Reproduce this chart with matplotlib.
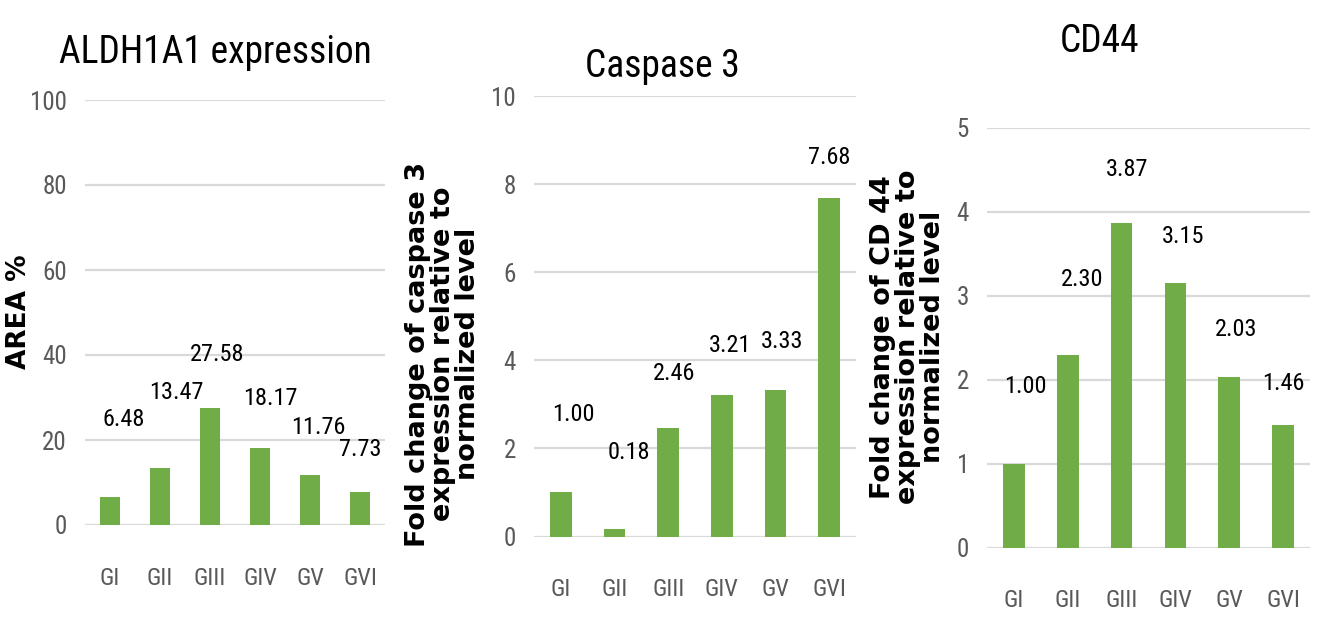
import os
import matplotlib
matplotlib.use("Agg")
import matplotlib.pyplot as plt
from matplotlib import font_manager as fm
import numpy as np

GROUPS = ["GI", "GII", "GIII", "GIV", "GV", "GVI"]

ALDH1A1_AREA = [6.48, 13.47, 27.58, 18.17, 11.76, 7.73]
CASPASE3_FOLD = [1.00, 0.18, 2.46, 3.21, 3.33, 7.68]
CD44_FOLD = [1.00, 2.30, 3.87, 3.15, 2.03, 1.46]

# value labels sit wherever they were dragged in the original, not on the bars
ALDH_LBL_DX = [0.28, 0.32, 0.14, 0.20, 0.16, 0.0]
ALDH_LBL_Y = [24.8, 31.2, 40.2, 29.7, 23.0, 17.7]
CASP_LBL_DX = [0.23, 0.26, 0.11, 0.15, 0.13, 0.0]
CASP_LBL_Y = [2.76, 1.91, 3.70, 4.33, 4.42, 8.6]
CD44_LBL_DX = [0.22, 0.26, 0.10, 0.15, 0.12, 0.0]
CD44_LBL_Y = [1.92, 3.19, 4.50, 3.71, 2.60, 1.96]

GREEN = "#70AD47"
GRID = "#D9D9D9"
TICK = "#595959"

W, H = 1320, 622


def narrow_font():
    # the original uses a squeezed Calibri; take the narrowest regular face we can find
    wanted = ["LiberationSansNarrow-Regular", "NotoSans-Condensed.",
              "NotoSans-ExtraCondensed.", "NotoSans-SemiCondensed.",
              "OpenSans_Condensed-Regular", "OpenSans-CondensedRegular",
              "RobotoCondensed-Regular", "DejaVuSansCondensed."]
    files = [f.fname for f in fm.fontManager.ttflist]
    for key in wanted:
        for fn in files:
            if key in os.path.basename(fn):
                return fm.FontProperties(fname=fn), key
    return fm.FontProperties(family="DejaVu Sans"), "DejaVu"


NARROW, NARROW_NAME = narrow_font()
print("narrow font:", NARROW_NAME)

fig = plt.figure(figsize=(W / 100, H / 100), dpi=100)


def px_axes(x0, x1, ytop, ybot):
    return fig.add_axes([x0 / W, (H - ybot) / H, (x1 - x0) / W, (ybot - ytop) / H])


def nfont(size):
    p = NARROW.copy()
    p.set_size(size)
    return p


def bar_panel(ax, vals, ymax, step, dx, ly):
    x = np.arange(len(GROUPS))
    ax.bar(x, vals, width=0.4, color=GREEN, zorder=3)
    ax.set_xlim(-0.5, len(GROUPS) - 0.5)
    ax.set_ylim(0, ymax)
    ax.set_yticks(np.arange(0, ymax + step / 2, step))
    ax.set_xticks(x)
    ax.set_xticklabels(GROUPS)
    ax.grid(axis="y", color=GRID, lw=1.6, zorder=0)
    for s in ax.spines.values():
        s.set_visible(False)
    ax.tick_params(length=0)
    ax.tick_params(axis="x", pad=30, labelcolor=TICK)
    ax.tick_params(axis="y", pad=13, labelcolor=TICK)
    for lab in ax.get_xticklabels():
        lab.set_fontproperties(nfont(17.5))
    for lab in ax.get_yticklabels():
        lab.set_fontproperties(nfont(18))
    for i, v in enumerate(vals):
        ax.text(i + dx[i], ly[i], f"{v:.2f}", ha="center", va="center",
                fontproperties=nfont(17.5), color="black", zorder=4)


ax1 = px_axes(85, 385, 100, 525)
bar_panel(ax1, ALDH1A1_AREA, 100, 20, ALDH_LBL_DX, ALDH_LBL_Y)
ax2 = px_axes(534, 856, 96, 536.5)
bar_panel(ax2, CASPASE3_FOLD, 10, 2, CASP_LBL_DX, CASP_LBL_Y)
ax3 = px_axes(987, 1310, 128, 547.6)
bar_panel(ax3, CD44_FOLD, 5, 1, CD44_LBL_DX, CD44_LBL_Y)

# titles
fig.text(215 / W, (H - 63) / H, "ALDH1A1 expression", ha="center", va="baseline",
         fontproperties=nfont(27))
fig.text(662 / W, (H - 77) / H, "Caspase 3", ha="center", va="baseline",
         fontproperties=nfont(27))
fig.text(1100 / W, (H - 52) / H, "CD44", ha="center", va="baseline",
         fontproperties=nfont(27))

# y labels
fig.text(19 / W, (H - 312) / H, "AREA %", rotation=90, ha="center", va="center",
         fontsize=19, fontweight="bold")
fig.text(443 / W, (H - 354) / H,
         "Fold change of caspase 3\nexpression relative to\nnormalized level",
         rotation=90, ha="center", va="center", multialignment="center",
         fontsize=19.5, fontweight="bold", linespacing=0.95)
fig.text(908 / W, (H - 337) / H,
         "Fold change of CD 44\nexpression relative to\nnormalized level",
         rotation=90, ha="center", va="center", multialignment="center",
         fontsize=19.5, fontweight="bold", linespacing=0.95)

fig.savefig("out.png", dpi=100)
